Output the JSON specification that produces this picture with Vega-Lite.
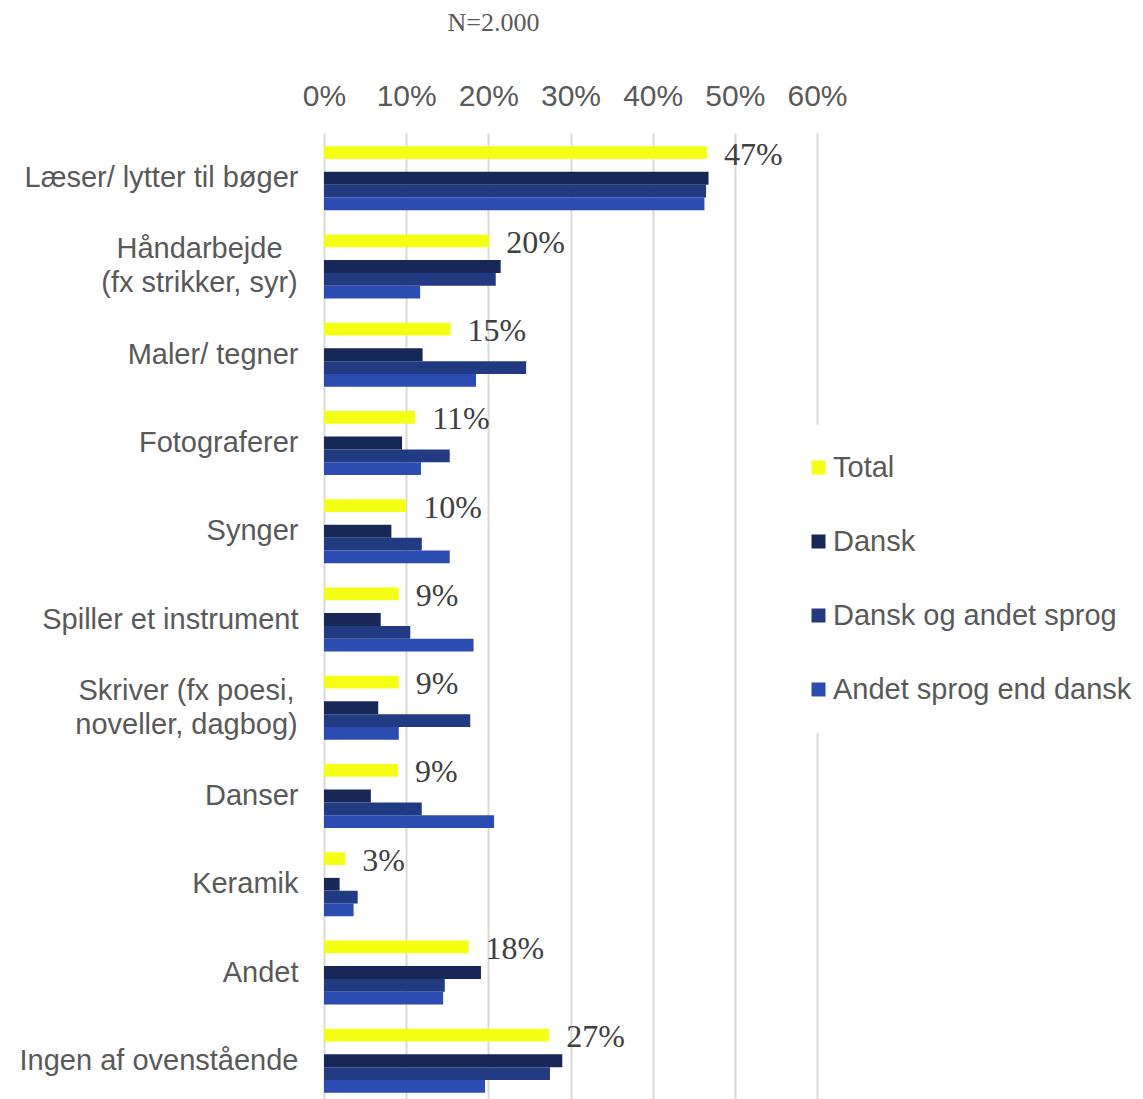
{
  "$schema": "https://vega.github.io/schema/vega-lite/v6.json",
  "width": 493,
  "height": 973,
  "autosize": {"type": "none"},
  "padding": {"left": 324, "top": 133, "right": 326, "bottom": 0},
  "background": "white",
  "config": {"view": {"stroke": null}, "font": "Liberation Sans"},
  "title": {"text": "N=2.000", "font": "Liberation Serif", "fontSize": 26, "fontWeight": "normal", "color": "#595959", "anchor": "middle", "dx": -77, "offset": 45},
  "data": {"values": [
    {"cat": "Læser/ lytter til bøger", "series": "Total", "v": 0.466},
    {"cat": "Læser/ lytter til bøger", "series": "Dansk", "v": 0.468},
    {"cat": "Læser/ lytter til bøger", "series": "Dansk og andet sprog", "v": 0.465},
    {"cat": "Læser/ lytter til bøger", "series": "Andet sprog end dansk", "v": 0.463},
    {"cat": "Håndarbejde|(fx strikker, syr)", "series": "Total", "v": 0.201},
    {"cat": "Håndarbejde|(fx strikker, syr)", "series": "Dansk", "v": 0.215},
    {"cat": "Håndarbejde|(fx strikker, syr)", "series": "Dansk og andet sprog", "v": 0.209},
    {"cat": "Håndarbejde|(fx strikker, syr)", "series": "Andet sprog end dansk", "v": 0.117},
    {"cat": "Maler/ tegner", "series": "Total", "v": 0.154},
    {"cat": "Maler/ tegner", "series": "Dansk", "v": 0.120},
    {"cat": "Maler/ tegner", "series": "Dansk og andet sprog", "v": 0.246},
    {"cat": "Maler/ tegner", "series": "Andet sprog end dansk", "v": 0.185},
    {"cat": "Fotograferer", "series": "Total", "v": 0.111},
    {"cat": "Fotograferer", "series": "Dansk", "v": 0.095},
    {"cat": "Fotograferer", "series": "Dansk og andet sprog", "v": 0.153},
    {"cat": "Fotograferer", "series": "Andet sprog end dansk", "v": 0.118},
    {"cat": "Synger", "series": "Total", "v": 0.100},
    {"cat": "Synger", "series": "Dansk", "v": 0.082},
    {"cat": "Synger", "series": "Dansk og andet sprog", "v": 0.119},
    {"cat": "Synger", "series": "Andet sprog end dansk", "v": 0.153},
    {"cat": "Spiller et instrument", "series": "Total", "v": 0.091},
    {"cat": "Spiller et instrument", "series": "Dansk", "v": 0.069},
    {"cat": "Spiller et instrument", "series": "Dansk og andet sprog", "v": 0.105},
    {"cat": "Spiller et instrument", "series": "Andet sprog end dansk", "v": 0.182},
    {"cat": "Skriver (fx poesi,|noveller, dagbog)", "series": "Total", "v": 0.091},
    {"cat": "Skriver (fx poesi,|noveller, dagbog)", "series": "Dansk", "v": 0.066},
    {"cat": "Skriver (fx poesi,|noveller, dagbog)", "series": "Dansk og andet sprog", "v": 0.178},
    {"cat": "Skriver (fx poesi,|noveller, dagbog)", "series": "Andet sprog end dansk", "v": 0.091},
    {"cat": "Danser", "series": "Total", "v": 0.090},
    {"cat": "Danser", "series": "Dansk", "v": 0.057},
    {"cat": "Danser", "series": "Dansk og andet sprog", "v": 0.119},
    {"cat": "Danser", "series": "Andet sprog end dansk", "v": 0.207},
    {"cat": "Keramik", "series": "Total", "v": 0.026},
    {"cat": "Keramik", "series": "Dansk", "v": 0.019},
    {"cat": "Keramik", "series": "Dansk og andet sprog", "v": 0.041},
    {"cat": "Keramik", "series": "Andet sprog end dansk", "v": 0.036},
    {"cat": "Andet", "series": "Total", "v": 0.176},
    {"cat": "Andet", "series": "Dansk", "v": 0.191},
    {"cat": "Andet", "series": "Dansk og andet sprog", "v": 0.147},
    {"cat": "Andet", "series": "Andet sprog end dansk", "v": 0.145},
    {"cat": "Ingen af ovenstående", "series": "Total", "v": 0.274},
    {"cat": "Ingen af ovenstående", "series": "Dansk", "v": 0.290},
    {"cat": "Ingen af ovenstående", "series": "Dansk og andet sprog", "v": 0.275},
    {"cat": "Ingen af ovenstående", "series": "Andet sprog end dansk", "v": 0.196}
  ]},
  "encoding": {
    "y": {
      "field": "cat", "type": "nominal",
      "sort": ["Læser/ lytter til bøger", "Håndarbejde|(fx strikker, syr)", "Maler/ tegner", "Fotograferer", "Synger", "Spiller et instrument", "Skriver (fx poesi,|noveller, dagbog)", "Danser", "Keramik", "Andet", "Ingen af ovenstående"],
      "scale": {"paddingInner": 0.275, "paddingOuter": 0.15},
      "axis": {
        "title": null, "ticks": false, "domain": false, "labelFontSize": 29, "labelColor": "#595959", "labelLimit": 400, "labelLineHeight": 34,
        "labelExpr": "split(datum.label, '|')",
        "labelOffset": {"condition": {"test": "indexof(datum.value, '|') >= 0", "value": -17}, "value": 0},
        "labelAlign": {"condition": {"test": "indexof(datum.value, '|') >= 0", "value": "center"}, "value": "right"},
        "labelPadding": {"condition": [{"test": "indexof(datum.value, 'Håndarbejde') >= 0", "value": 125}, {"test": "indexof(datum.value, 'Skriver') >= 0", "value": 138}], "value": 26}
      }
    },
    "yOffset": {
      "field": "series",
      "scale": {"domain": ["Total", "gap", "Dansk", "Dansk og andet sprog", "Andet sprog end dansk"], "paddingInner": 0, "paddingOuter": 0}
    },
    "x": {
      "field": "v", "type": "quantitative",
      "scale": {"domain": [0, 0.6], "nice": false},
      "axis": {"orient": "top", "title": null, "format": ".0%", "values": [0, 0.1, 0.2, 0.3, 0.4, 0.5, 0.6], "ticks": false, "domain": false, "labelFontSize": 30, "labelColor": "#595959", "labelPadding": 22, "labelOverlap": false, "labelFlush": false, "labelBound": false, "gridColor": "#D9D9D9", "gridWidth": 2}
    }
  },
  "layer": [
    {
      "mark": {"type": "bar"},
      "encoding": {
        "color": {
          "field": "series", "type": "nominal",
          "scale": {"domain": ["Total", "Dansk", "Dansk og andet sprog", "Andet sprog end dansk"], "range": ["#F4FF14", "#172858", "#213A82", "#2B4CB0"]},
          "legend": {"title": null, "orient": "none", "legendX": 452, "legendY": 292, "symbolType": "square", "symbolSize": 196, "symbolStrokeWidth": 0, "labelFontSize": 29, "labelColor": "#595959", "labelOffset": 0, "rowPadding": 44, "fillColor": "white", "padding": 28, "labelLimit": 400}
        }
      }
    },
    {
      "transform": [{"filter": "datum.series === 'Total'"}],
      "mark": {"type": "text", "align": "left", "baseline": "middle", "dx": 17, "dy": 2, "font": "Liberation Serif", "fontSize": 32, "color": "#404040"},
      "encoding": {"text": {"field": "v", "type": "quantitative", "format": ".0%"}}
    }
  ]
}
